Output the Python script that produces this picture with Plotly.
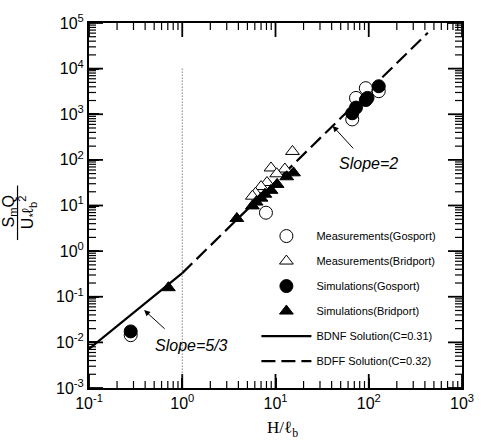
import plotly.graph_objects as go
import math

# ---- data ----
meas_gos_x = [0.28, 7.9, 66.5, 73, 93, 128]
meas_gos_y = [0.0144, 6.95, 770, 2280, 3730, 3200]

meas_bri_x = [15.2, 8.95, 12.6, 10.3, 8.1, 7.0, 6.1, 5.65]
meas_bri_y = [153, 66.5, 63, 49.5, 31.9, 26, 18.6, 16]

sim_gos_x = [0.28, 66.5, 73, 93, 97, 128]
sim_gos_y = [0.0174, 1050, 1400, 2050, 2280, 4110]

sim_bri_x = [0.71, 3.85, 5.65, 6.2, 7.0, 7.7, 8.95, 10.4, 13.2, 15.6]
sim_bri_y = [0.158, 5.2, 9.8, 11.9, 14.5, 17.7, 21.5, 29, 42.6, 52]

bdnf_x = [0.1, 1.0]
bdnf_y = [0.0072, 0.33]
bdff_x = [1.0, 430]
bdff_y = [0.33, 61000]

ref_x = [1, 1]
ref_y = [1e4, 1e-3]

x_tickvals = [0.1, 1, 10, 100, 1000]
x_ticktext = ["10<sup>-1</sup>", "10<sup>0</sup>", "10<sup>1</sup>", "10<sup>2</sup>", "10<sup>3</sup>"]
y_tickvals = [1e-3, 1e-2, 1e-1, 1, 10, 100, 1e3, 1e4, 1e5]
y_ticktext = ["10<sup>-3</sup>", "10<sup>-2</sup>", "10<sup>-1</sup>", "10<sup>0</sup>", "10<sup>1</sup>",
              "10<sup>2</sup>", "10<sup>3</sup>", "10<sup>4</sup>", "10<sup>5</sup>"]
minor_mults = [2, 3, 4, 5, 6, 7, 8, 9]

legend_names = ["Measurements(Gosport)", "Measurements(Bridport)", "Simulations(Gosport)",
                "Simulations(Bridport)", "BDNF Solution(C=0.31)", "BDFF Solution(C=0.32)"]

slope2_point = (41, 555)
slope53_point = (0.39, 0.051)

FONT = "Liberation Sans, Arial, sans-serif"

W, H = 486, 443
ML, MR, MT, MB = 89, 16, 13, 55
x_range = [-1, 3]
y_range = [-3, 5]
plot_w = W - ML - MR
plot_h = H - MT - MB

x_minor = [m * d for d in x_tickvals[:-1] for m in minor_mults]
y_minor = [m * d for d in y_tickvals[:-1] for m in minor_mults]

xlo, xhi = 10 ** x_range[0], 10 ** x_range[1]
ylo, yhi = 10 ** y_range[0], 10 ** y_range[1]


def tick_marker_trace(xs, ys, symbol, size, width):
    # markers centred on the frame; the outer half is clipped by the plot area
    return go.Scatter(x=xs, y=ys, mode="markers", showlegend=False, hoverinfo="skip",
                      cliponaxis=True,
                      marker=dict(symbol=symbol, size=size, color="black",
                                  line=dict(color="black", width=width)))


fig = go.Figure()

# x ticks on bottom and top edges
for vals, size, width in [(x_tickvals, 20, 1.8), (x_minor, 10, 1.2)]:
    fig.add_trace(tick_marker_trace(vals + vals, [ylo] * len(vals) + [yhi] * len(vals),
                                    "line-ns", size, width))
# y ticks on left and right edges
for vals, size, width in [(y_tickvals, 20, 1.8), (y_minor, 10, 1.2)]:
    fig.add_trace(tick_marker_trace([xlo] * len(vals) + [xhi] * len(vals), vals + vals,
                                    "line-ew", size, width))

fig.add_trace(go.Scatter(x=ref_x, y=ref_y, mode="lines", showlegend=False,
                         line=dict(color="#444", width=1, dash="1px,2px"), hoverinfo="skip"))
fig.add_trace(go.Scatter(x=bdnf_x, y=bdnf_y, mode="lines", name=legend_names[4], legendrank=5,
                         legendgroup="e", line=dict(color="black", width=2.2)))
fig.add_trace(go.Scatter(x=bdff_x, y=bdff_y, mode="lines", name=legend_names[5], legendrank=6,
                         legendgroup="f", line=dict(color="black", width=2.2, dash="14px,6px")))

fig.add_trace(go.Scatter(x=meas_gos_x, y=meas_gos_y, mode="markers", name=legend_names[0], legendrank=1,
                         legendgroup="a",
                         marker=dict(symbol="circle", size=13, color="white", line=dict(color="black", width=1))))
fig.add_trace(go.Scatter(x=meas_bri_x, y=meas_bri_y, mode="markers", name=legend_names[1], legendrank=2,
                         legendgroup="b",
                         marker=dict(symbol="triangle-up", size=12, color="white", line=dict(color="black", width=1))))
fig.add_trace(go.Scatter(x=sim_gos_x, y=sim_gos_y, mode="markers", name=legend_names[2], legendrank=3,
                         legendgroup="c",
                         marker=dict(symbol="circle", size=13, color="black", line=dict(color="black", width=1))))
fig.add_trace(go.Scatter(x=sim_bri_x, y=sim_bri_y, mode="markers", name=legend_names[3], legendrank=4,
                         legendgroup="d",
                         marker=dict(symbol="triangle-up", size=12, color="black", line=dict(color="black", width=1))))

tickfont = dict(family=FONT, size=16, color="black")

fig.update_layout(
    xaxis=dict(type="log", range=x_range, tickmode="array", tickvals=x_tickvals, ticktext=x_ticktext,
               showgrid=False, zeroline=False, showline=True, linecolor="black", linewidth=2,
               mirror=True, ticks="inside", ticklen=10, tickwidth=2, tickcolor="black",
               tickfont=tickfont),
    yaxis=dict(type="log", range=y_range, tickmode="array", tickvals=y_tickvals, ticktext=y_ticktext,
               showgrid=False, zeroline=False, showline=True, linecolor="black", linewidth=2,
               mirror=True, ticks="inside", ticklen=10, tickwidth=2, tickcolor="black",
               tickfont=tickfont),
)

annotations = [
    dict(x=math.log10(slope2_point[0]), y=math.log10(slope2_point[1]), xref="x", yref="y",
         text="", showarrow=True, arrowhead=2, arrowsize=1.2, arrowwidth=1, arrowcolor="black",
         ax=22, ay=24),
    dict(x=(375 - ML) / plot_w, y=(MT + plot_h - 157) / plot_h, xref="paper", yref="paper",
         xanchor="center", yanchor="middle",
         text="<i>Slope=2</i>", showarrow=False, font=dict(family=FONT, size=16, color="black")),
    dict(x=math.log10(slope53_point[0]), y=math.log10(slope53_point[1]), xref="x", yref="y",
         text="", showarrow=True, arrowhead=2, arrowsize=1.2, arrowwidth=1, arrowcolor="black",
         ax=22, ay=20),
    dict(x=(194 - ML) / plot_w, y=(MT + plot_h - 344) / plot_h, xref="paper", yref="paper",
         xanchor="center", yanchor="middle",
         text="<i>Slope=5/3</i>", showarrow=False, font=dict(family=FONT, size=16, color="black")),
    dict(x=(8 - ML) / plot_w, y=(MT + plot_h - 207) / plot_h, xref="paper", yref="paper",
         xanchor="center", yanchor="middle",
         text="S<sub>m</sub>Q", textangle=-90, showarrow=False,
         font=dict(family=FONT, size=16, color="black")),
    dict(x=(26 - ML) / plot_w, y=(MT + plot_h - 207) / plot_h, xref="paper", yref="paper",
         xanchor="center", yanchor="middle",
         text="U<sub>*</sub>ℓ<sub>b</sub><sup>2</sup>", textangle=-90, showarrow=False,
         font=dict(family=FONT, size=16, color="black")),
    dict(x=(287 - ML) / plot_w, y=(MT + plot_h - 430) / plot_h, xref="paper", yref="paper",
         xanchor="center", yanchor="middle",
         text="H/ℓ<sub>b</sub>", showarrow=False,
         font=dict(family="Liberation Serif, Times New Roman, serif", size=17, color="black")),
]

shapes = [
    dict(type="line", xref="paper", yref="paper",
         x0=(16 - ML) / plot_w, x1=(16 - ML) / plot_w,
         y0=(MT + plot_h - 180) / plot_h, y1=(MT + plot_h - 236) / plot_h,
         line=dict(color="black", width=1.2)),
]

fig.update_layout(
    width=W, height=H,
    margin=dict(l=ML, r=MR, t=MT, b=MB),
    paper_bgcolor="white", plot_bgcolor="white",
    showlegend=True,
    legend=dict(x=(260 - ML) / plot_w, y=(MT + plot_h - 217) / plot_h, xanchor="left", yanchor="top",
                bgcolor="rgba(0,0,0,0)", borderwidth=0, tracegroupgap=6, itemwidth=50,
                font=dict(family=FONT, size=11, color="black")),
    annotations=annotations, shapes=shapes,
)

fig.write_html("out.html")
